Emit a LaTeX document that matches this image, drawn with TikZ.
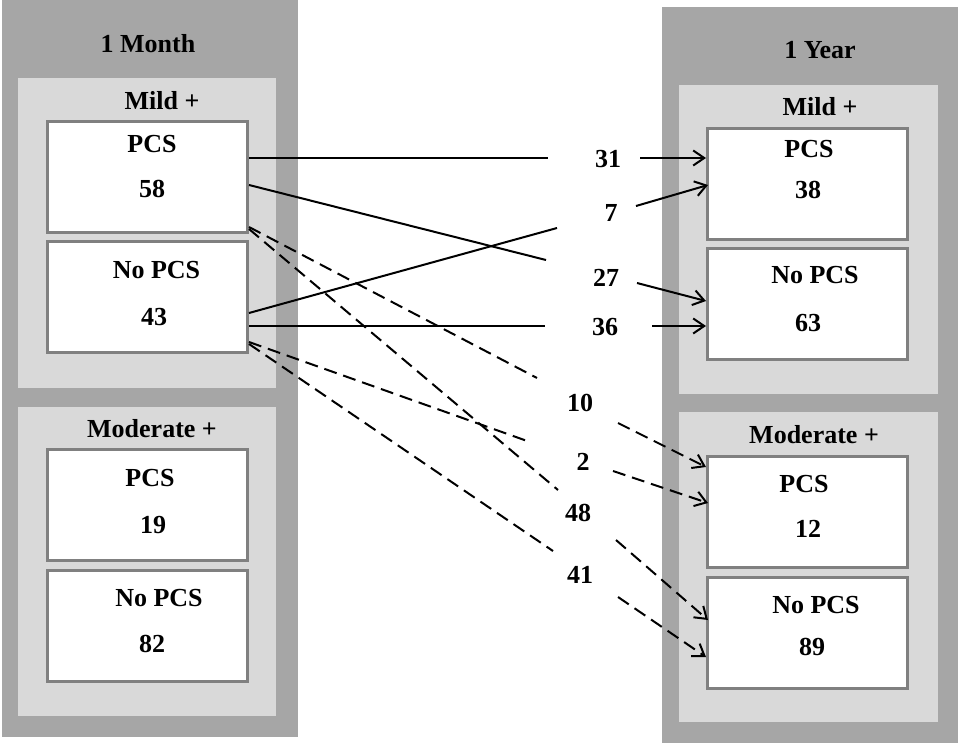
\documentclass[tikz,border=0pt]{standalone}
\usepackage{fontspec}
\setmainfont{Liberation Serif}
\usetikzlibrary{arrows.meta}
\definecolor{darkg}{HTML}{A6A6A6}
\definecolor{lightg}{HTML}{D9D9D9}
\definecolor{edgeg}{HTML}{808080}
\tikzset{
  outerbox/.style={fill=darkg, draw=none, inner sep=0, minimum width=296pt},
  groupbox/.style={fill=lightg, draw=none, inner sep=0, minimum width=258pt, minimum height=310pt},
  cellbox/.style={fill=white, draw=edgeg, line width=3pt, inner sep=0, minimum width=200pt, minimum height=111pt},
  txt/.style={font=\bfseries\fontsize{26}{30}\selectfont, anchor=base, inner sep=0},
  conn/.style={line width=2pt, black},
  dconn/.style={conn, dash pattern=on 13pt off 7pt},
  tip/.style={-{Straight Barb[length=11pt,width=15pt,line width=2pt]}}
}
\begin{document}
\begin{tikzpicture}[x=1pt,y=-1pt]
\useasboundingbox (0,0) rectangle (958,744);
% outer columns
\node[outerbox, minimum height=737pt] (lcol) at (150,368.5) {};
\node[outerbox, minimum height=736pt] (rcol) at (810,375) {};
% group boxes
\node[groupbox] (lmild) at (147,233) {};
\node[groupbox, minimum height=309pt] (lmod) at (147,561.5) {};
\node[groupbox, minimum width=259pt, minimum height=309pt] (rmild) at (808.5,239.5) {};
\node[groupbox, minimum width=259pt] (rmod) at (808.5,567) {};
% cells
\node[cellbox] (lmp) at (147.5,177) {};
\node[cellbox] (lmn) at (147.5,297) {};
\node[cellbox] (lop) at (147.5,505) {};
\node[cellbox] (lon) at (147.5,626) {};
\node[cellbox] (rmp) at (807.5,184) {};
\node[cellbox] (rmn) at (807.5,304) {};
\node[cellbox] (rop) at (807.5,512) {};
\node[cellbox] (ron) at (807.5,633) {};
% titles
\node[txt] (tmonth) at (148,52) {1 Month};
\node[txt] (tyear) at (820,58) {1 Year};
\node[txt] (tlmild) at (162,109) {Mild +};
\node[txt] (trmild) at (820,115) {Mild +};
\node[txt] (tlmod) at (152,437) {Moderate +};
\node[txt] (trmod) at (814,443) {Moderate +};
% cell texts left
\node[txt] (a1) at (152,152) {PCS};
\node[txt] (a2) at (152,197) {58};
\node[txt] (a3) at (156.5,278) {No PCS};
\node[txt] (a4) at (154,325) {43};
\node[txt] (a5) at (150,486) {PCS};
\node[txt] (a6) at (153,533) {19};
\node[txt] (a7) at (159,606) {No PCS};
\node[txt] (a8) at (152,652) {82};
% cell texts right
\node[txt] (b1) at (809,157) {PCS};
\node[txt] (b2) at (808,198) {38};
\node[txt] (b3) at (815,283) {No PCS};
\node[txt] (b4) at (808,331) {63};
\node[txt] (b5) at (804,492) {PCS};
\node[txt] (b6) at (808,537) {12};
\node[txt] (b7) at (816,613) {No PCS};
\node[txt] (b8) at (812,655) {89};
% flow labels
\node[txt] (n31) at (608,167) {31};
\node[txt] (n7) at (611,221) {7};
\node[txt] (n27) at (606,286) {27};
\node[txt] (n36) at (605,335) {36};
\node[txt] (n10) at (580,411) {10};
\node[txt] (n2) at (583,470) {2};
\node[txt] (n48) at (578,521) {48};
\node[txt] (n41) at (580,583) {41};
% gap coordinates
\coordinate (e31) at (548,158);  \coordinate (s31) at (640,158);
\coordinate (e27) at (546,260);  \coordinate (s27) at (637,283);
\coordinate (e7)  at (557,228);  \coordinate (s7)  at (636,206);
\coordinate (e36) at (545,326);  \coordinate (s36) at (652,326);
\coordinate (e10) at (537,378);  \coordinate (s10) at (618,423);
\coordinate (e48) at (558,490);  \coordinate (s48) at (616,540);
\coordinate (e2)  at (530,442);  \coordinate (s2)  at (613,471);
\coordinate (e41) at (553,551);  \coordinate (s41) at (618,597);
% solid connectors
\draw[conn] ([yshift=19pt]lmp.east) -- (e31);
\draw[conn,tip] (s31) -- ([yshift=26pt]rmp.west);
\draw[conn] ([yshift=-8pt]lmp.east) -- (e27);
\draw[conn,tip] (s27) -- ([yshift=3pt]rmn.west);
\draw[conn] ([yshift=-16pt]lmn.east) -- (e7);
\draw[conn,tip] (s7) -- ([xshift=2pt,yshift=-1pt]rmp.west);
\draw[conn] ([yshift=-29pt]lmn.east) -- (e36);
\draw[conn,tip] (s36) -- ([yshift=-22pt]rmn.west);
% dashed connectors
\draw[dconn] ([yshift=-50pt]lmp.east) -- (e10);
\draw[dconn,tip] (s10) -- ([yshift=45pt]rop.west);
\draw[dconn] ([yshift=-52pt]lmp.east) -- (e48);
\draw[dconn,tip] (s48) -- ([xshift=2pt,yshift=13pt]ron.west);
\draw[dconn] ([yshift=-45pt]lmn.east) -- (e2);
\draw[dconn,tip] (s2) -- ([xshift=2pt,yshift=9pt]rop.west);
\draw[dconn] ([yshift=-47pt]lmn.east) -- (e41);
\draw[dconn,tip] (s41) -- ([yshift=-24pt]ron.west);
\end{tikzpicture}
\end{document}
